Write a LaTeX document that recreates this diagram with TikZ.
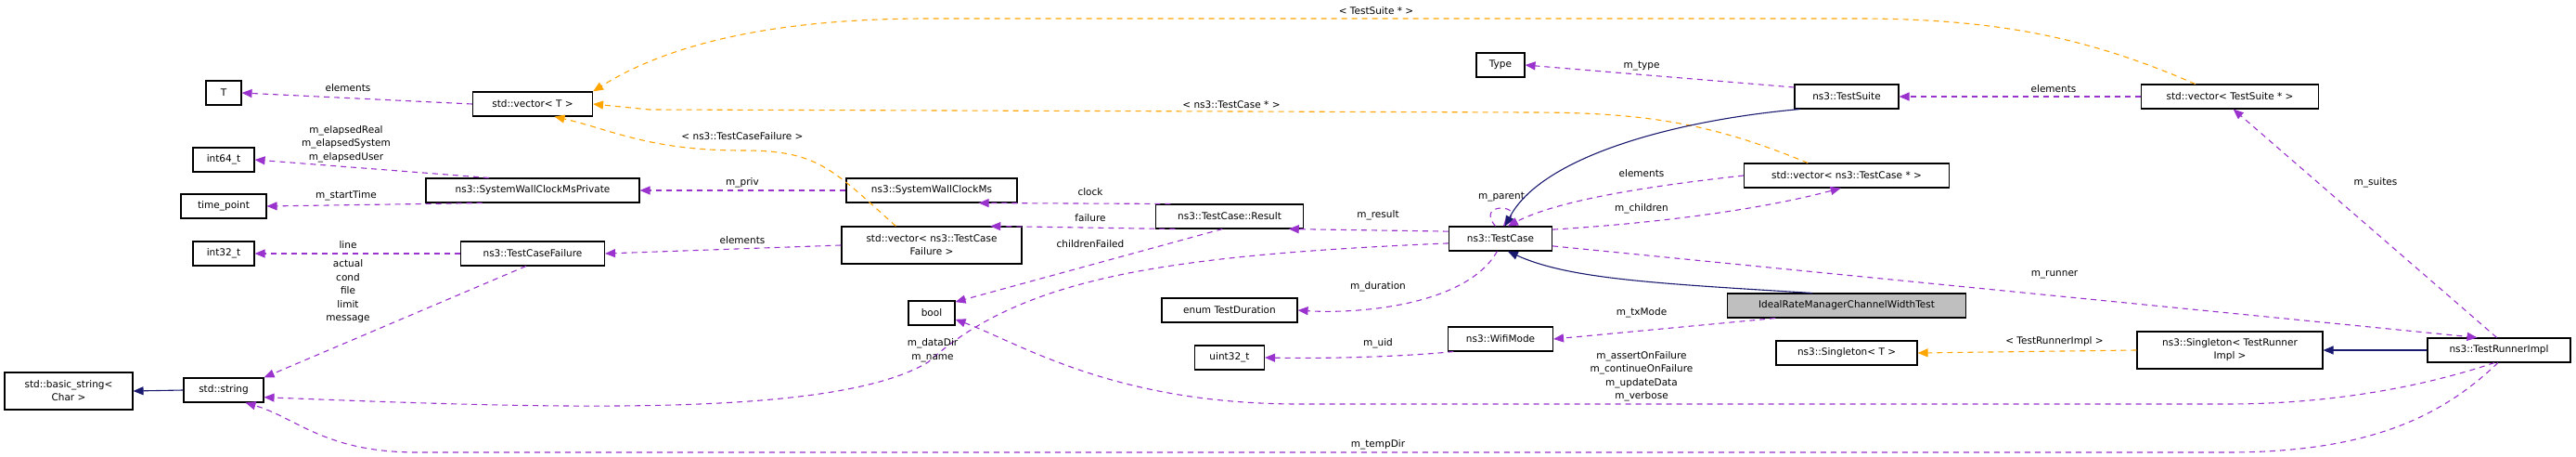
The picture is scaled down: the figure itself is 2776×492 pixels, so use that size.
\documentclass[tikz,border=0pt]{standalone}
\usepackage{fontspec}
\setmainfont{DejaVu Sans}
\usetikzlibrary{arrows.meta}
\definecolor{pur}{HTML}{9A32CD}
\definecolor{org}{HTML}{FFA500}
\definecolor{nav}{HTML}{191970}
\begin{document}
\begin{tikzpicture}[x=1pt,y=-1pt,
  box/.style={draw=black,line width=1.1pt,fill=white,inner sep=0pt,align=center,font=\fontsize{10.5}{14}\selectfont},
  lab/.style={inner sep=0pt,align=center,font=\fontsize{10.5}{14.5}\selectfont},
  mem/.style={draw=pur,dashed,line width=1.1pt,dash pattern=on 6pt off 5pt,-{Triangle[length=11pt,width=9pt]}},
  tpl/.style={draw=org,dashed,line width=1.1pt,dash pattern=on 6pt off 5pt,-{Triangle[length=11pt,width=9pt]}},
  inh/.style={draw=nav,line width=1.1pt,-{Triangle[length=11pt,width=9pt]}}]
\useasboundingbox (0,0) rectangle (2776,492);
% nodes
\node[box,minimum width=38,minimum height=26] (T) at (241,100) {T};
\node[box,minimum width=129,minimum height=26] (vT) at (574,112) {std::vector< T >};
\node[box,minimum width=66,minimum height=26] (i64) at (241,172) {int64\_t};
\node[box,minimum width=92,minimum height=26] (tp) at (241,222) {time\_point};
\node[box,minimum width=230,minimum height=26] (swp) at (574,205) {ns3::SystemWallClockMsPrivate};
\node[box,minimum width=66,minimum height=26] (i32) at (241,273) {int32\_t};
\node[box,minimum width=155,minimum height=26] (tcf) at (574,273) {ns3::TestCaseFailure};
\node[box,minimum width=138,minimum height=40] (bs) at (74,421) {std::basic\_string<\\Char >};
\node[box,minimum width=86,minimum height=26] (str) at (241,420) {std::string};
\node[box,minimum width=52,minimum height=26] (Type) at (1617,70) {Type};
\node[box,minimum width=184,minimum height=26] (swc) at (1004,205) {ns3::SystemWallClockMs};
\node[box,minimum width=159,minimum height=26] (res) at (1325,233) {ns3::TestCase::Result};
\node[box,minimum width=194,minimum height=40] (vtcf) at (1004,264) {std::vector< ns3::TestCase\\Failure >};
\node[box,minimum width=111,minimum height=26] (tc) at (1617,257) {ns3::TestCase};
\node[box,minimum width=50,minimum height=26] (bool) at (1004,337) {bool};
\node[box,minimum width=146,minimum height=26] (enum) at (1325,334) {enum TestDuration};
\node[box,minimum width=113,minimum height=26] (wifi) at (1617,365) {ns3::WifiMode};
\node[box,minimum width=75,minimum height=26] (u32) at (1325,385) {uint32\_t};
\node[box,minimum width=112,minimum height=26] (ts) at (1990,104) {ns3::TestSuite};
\node[box,minimum width=191,minimum height=26] (vts) at (2403,104) {std::vector< TestSuite * >};
\node[box,minimum width=221,minimum height=26] (vtc) at (1990,189) {std::vector< ns3::TestCase * >};
\node[box,minimum width=257,minimum height=26,fill={rgb,255:red,191;green,191;blue,191}] (ideal) at (1990,329) {IdealRateManagerChannelWidthTest};
\node[box,minimum width=152,minimum height=26] (sT) at (1990,380) {ns3::Singleton< T >};
\node[box,minimum width=200,minimum height=40] (sTRI) at (2403,377) {ns3::Singleton< TestRunner\\Impl >};
\node[box,minimum width=154,minimum height=26] (tri) at (2693,377) {ns3::TestRunnerImpl};
% edges
\draw[mem] (vT.west) -- (T.east);
\node[lab] (l1) at (375,95) {elements};
\draw[mem] (swp.164) -- (i64.east);
\node[lab] (l2) at (373,155) {m\_elapsedReal\\m\_elapsedSystem\\m\_elapsedUser};
\draw[mem] (swp.194) -- (tp.east);
\node[lab] (l3) at (373,211) {m\_startTime};
\draw[mem] (swc.west) -- (swp.east);
\node[lab] (l4) at (800,197) {m\_priv};
\draw[mem] (tcf.west) -- (i32.east);
\node[lab] (l5) at (375,264) {line};
\draw[mem] (tcf.-118) -- (str.north east);
\node[lab] (l6) at (375,314) {actual\\cond\\file\\limit\\message};
\draw[mem] (vtcf.west) -- (tcf.east);
\node[lab] (l7) at (800,259) {elements};
\draw[tpl] (vtcf.152) .. controls (895,180) and (880,162) .. (800,162) .. controls (700,162) and (660,140) .. (vT.-30);
\node[lab] (l8) at (800,147) {< ns3::TestCaseFailure >};
\draw[tpl] (vtc.162) .. controls (1850,135) and (1780,121) .. (1650,121) -- (700,118) -- (vT.east);
\node[lab] (l9) at (1327,113) {< ns3::TestCase * >};
\draw[tpl] (vts.160) .. controls (2250,40) and (2150,20) .. (2000,20) -- (1000,20) .. controls (800,20) and (700,60) .. (vT.north east);
\node[lab] (l10) at (1483,12) {< TestSuite * >};
\draw[mem] (res.168) -- (swc.-15);
\node[lab] (l11) at (1175,207) {clock};
\draw[mem] (res.193) -- (vtcf.18);
\node[lab] (l12) at (1175,235) {failure};
\node[lab] (l13) at (1175,263) {childrenFailed};
\draw[mem] (res.-120) -- (bool.25);
\draw[mem] (tc.172) -- (res.-12);
\node[lab] (l14) at (1485,232) {m\_result};
\draw[mem] (tc.112) .. controls (1590,218) and (1640,220) .. (tc.78);
\node[lab] (l15) at (1618,212) {m\_parent};
\draw[mem] (vtc.west) .. controls (1780,200) and (1680,215) .. (tc.60);
\node[lab] (l16) at (1769,187) {elements};
\draw[mem] (tc.10) .. controls (1790,240) and (1900,225) .. (vtc.-115);
\node[lab] (l17) at (1769,225) {m\_children};
\draw[mem] (tc.-105) .. controls (1580,330) and (1460,338) .. (enum.east);
\node[lab] (l18) at (1485,309) {m\_duration};
\draw[mem] (tc.185) .. controls (1250,275) and (1100,300) .. (1000,390) .. controls (900,450) and (600,440) .. (str.-10);
\node[lab] (l19) at (1005,377) {m\_dataDir\\m\_name};
\draw[mem] (tc.-8) -- (tri.150);
\node[lab] (l20) at (2214,296) {m\_runner};
\draw[inh] (ts.-165) .. controls (1800,130) and (1660,170) .. (tc.70);
\draw[inh] (ideal.160) .. controls (1780,305) and (1690,300) .. (tc.-60);
\draw[mem] (ts.170) -- (Type.east);
\node[lab] (l21) at (1769,71) {m\_type};
\draw[mem] (vts.west) -- (ts.east);
\node[lab] (l22) at (2213,96) {elements};
\draw[mem] (ideal.-170) -- (wifi.east);
\node[lab] (l23) at (1769,337) {m\_txMode};
\draw[mem] (wifi.-165) .. controls (1500,385) and (1420,386) .. (u32.east);
\node[lab] (l24) at (1485,370) {m\_uid};
\draw[mem] (tri.100) -- (vts.-75);
\node[lab] (l25) at (2560,197) {m\_suites};
\draw[tpl] (sTRI.west) -- (sT.east);
\node[lab] (l26) at (2214,368) {< TestRunnerImpl >};
\draw[inh] (tri.west) -- (sTRI.east);
\draw[mem] (tri.-110) .. controls (2600,420) and (2500,435) .. (2400,435) -- (1400,435) .. controls (1200,435) and (1100,370) .. (bool.-15);
\node[lab] (l27) at (1769,405) {m\_assertOnFailure\\m\_continueOnFailure\\m\_updateData\\m\_verbose};
\draw[mem] (tri.-95) .. controls (2630,450) and (2550,487) .. (2400,487) -- (450,487) .. controls (350,487) and (320,450) .. (str.-30);
\node[lab] (l28) at (1485,479) {m\_tempDir};
\draw[inh] (str.west) -- (bs.east);
\end{tikzpicture}
\end{document}
